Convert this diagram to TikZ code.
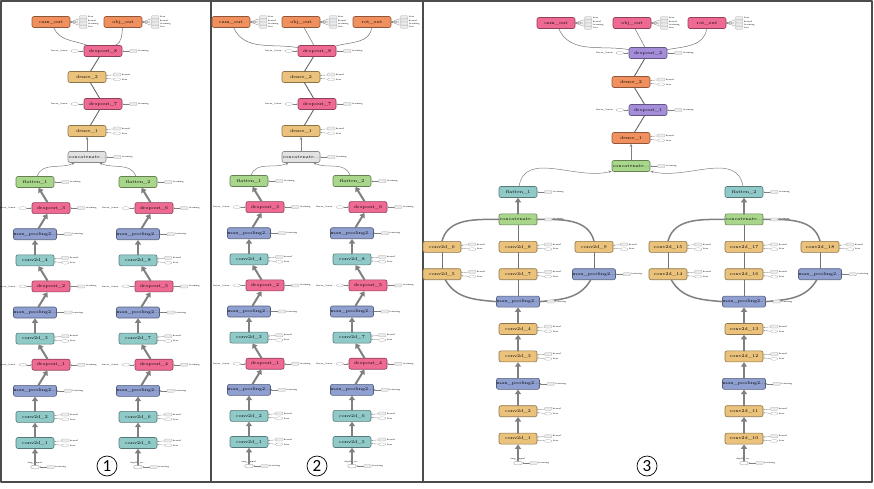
\documentclass[tikz,border=0pt]{standalone}
\usepackage{fontspec}
\newfontfamily\numfont{Carlito}
\usetikzlibrary{positioning,arrows.meta,shapes.geometric}
\definecolor{orng}{HTML}{F0905E}
\definecolor{pnk}{HTML}{EE6A92}
\definecolor{gld}{HTML}{EAC27C}
\definecolor{lgry}{HTML}{E2E2E2}
\definecolor{lgrn}{HTML}{A8D68B}
\definecolor{slat}{HTML}{8E9FD0}
\definecolor{tl}{HTML}{8FCAC8}
\definecolor{purp}{HTML}{A48EDA}
\begin{document}
\begin{tikzpicture}[x=1pt,y=1pt,line join=round,line cap=round,
	blk/.style={draw=#1!60!black,fill=#1,rounded corners=2pt,line width=0.6pt,minimum width=38pt,minimum height=11pt,inner sep=0pt,font=\fontsize{4.4}{4.4}\selectfont},
	tg/.style={draw=gray!70,fill=black!8,rounded corners=0.8pt,minimum width=7.5pt,minimum height=3pt,inner sep=0pt,line width=0.25pt},
	tge/.style={tg,fill=white,ellipse,rounded corners=0pt},
	tt/.style={inner sep=0pt,font=\fontsize{2.3}{2.3}\selectfont},
	ta/.style={draw=gray,line width=0.3pt,-{Stealth[length=1.2pt,width=1.2pt]}},
	thk/.style={draw=gray,line width=2pt,-{Triangle[length=4.5pt,width=6pt]}},
	mid/.style={draw=black!55,line width=0.9pt},
	med/.style={draw=gray,line width=1.5pt},
	thn/.style={draw=black!60,line width=0.9pt},
	ol/.style={draw=gray!90!black,line width=0.5pt},
	cn/.style={draw=gray,line width=0.5pt,-{Stealth[length=3pt,width=2.5pt]}},
	num/.style={circle,draw,line width=0.7pt,minimum size=20pt,inner sep=0pt,font=\numfont\fontsize{17}{17}\selectfont}]
	\def\mpl{max\_pooling2...}\def\ccat{concatenate...}
	\def\inl{img\_input}\def\inr{depth\_in...}
	\def\onetag#1#2{\node[tg,right=7pt of #1] (#1-t) {};
		\node[tt,right=0.6pt of #1-t] (#1-tl) {#2};
		\draw[ta] (#1-t) -- (#1);}
	\def\twotag#1{\node[tg,right=7pt of #1,yshift=2.4pt] (#1-t) {};
		\node[tt,right=0.6pt of #1-t] (#1-tl) {kernel};
		\node[tge,right=7pt of #1,yshift=-2.4pt] (#1-u) {};
		\node[tt,right=0.6pt of #1-u] (#1-ul) {bias};
		\draw[ta] (#1-t) -- (#1); \draw[ta] (#1-u) -- (#1);}
	\def\droptag#1{\onetag{#1}{training}
		\node[tge,left=5pt of #1] (#1-k) {};
		\node[tt,left=0.5pt of #1-k] (#1-kl) {keras\_learn...};
		\draw[ta] (#1-k) -- (#1);}
	\def\outtag#1{\foreach \m/\sh/\tx in {1/4.8pt/bias,2/1.6pt/kernel,3/-1.6pt/training,4/-4.8pt/loss}{
		\node[tg,right=9pt of #1,yshift=\sh] (#1-\m) {};
		\node[tt,right=0.6pt of #1-\m] (#1-\m l) {\tx};
		\draw[ta] (#1-\m) -- (#1.east);}}
	\useasboundingbox (0,0) rectangle (874,-489);
	\draw[black!70,line width=1.3pt] (1,-1) rectangle (872,-482) (211,-1) -- (211,-482) (423,-1) -- (423,-482);
	
	% panels 1 and 2
	\foreach \p/\ox/\oy in {a/0/182,b/214/181}{
		\node[blk=lgry] (\p cc) at (87+\ox,-157) {\ccat};
		\node[blk=gld] (\p de1) at (87+\ox,-131) {dense\_1};
		\node[blk=pnk] (\p dr7) at (103+\ox,-104) {dropout\_7};
		\node[blk=gld] (\p de2) at (87+\ox,-77) {dense\_2};
		\node[blk=pnk] (\p dr8) at (103+\ox,-51) {dropout\_8};
		\draw[cn] (\p cc) -- (\p de1);
		\draw[thn] (\p de1) -- (\p dr7) -- (\p de2) -- (\p dr8);
		\onetag{\p cc}{training}
		\twotag{\p de1} \twotag{\p de2}
		\droptag{\p dr7} \droptag{\p dr8}
		\foreach \c/\cx/\k/\inp in {l/35/0/\inl,r/138/1/\inr}{
			\foreach \lv/\dx/\col/\txt in {0/0/lgrn/flatten\_\number\numexpr1+\k\relax,
				1/16/pnk/dropout\_\number\numexpr3+3*\k\relax,
				2/0/slat/\mpl,
				3/0/tl/conv2d\_\number\numexpr4+4*\k\relax,
				4/16/pnk/dropout\_\number\numexpr2+3*\k\relax,
				5/0/slat/\mpl,
				6/0/tl/conv2d\_\number\numexpr3+4*\k\relax,
				7/16/pnk/dropout\_\number\numexpr1+3*\k\relax,
				8/0/slat/\mpl,
				9/0/tl/conv2d\_\number\numexpr2+4*\k\relax,
				10/0/tl/conv2d\_\number\numexpr1+4*\k\relax}
				\node[blk=\col] (\p\c\lv) at (\cx+\dx+\ox,-\oy-26.1*\lv) {\txt};
			\node[tge,draw=gray,minimum width=9pt,minimum height=4pt] (\p\c in) at (\cx+\ox,-\oy-285) {};
			\node[tt,above=0.4pt of \p\c in] (\p\c inl) {\inp};
			\onetag{\p\c in}{training}
			\draw[thk] (\p\c in) -- (\p\c10);
			\foreach \lv [remember=\lv as \lo (initially 10)] in {9,...,0} \draw[thk] (\p\c\lo) -- (\p\c\lv);
			\foreach \lv in {3,6,9,10} {\twotag{\p\c\lv}}
			\foreach \lv in {0,2,5,8} {\onetag{\p\c\lv}{training}}
			\foreach \lv in {1,4,7} {\droptag{\p\c\lv}}
		}
		\draw[cn] (\p l0) to[out=70,in=205] (\p cc);
		\draw[cn] (\p r0) to[out=110,in=-25] (\p cc);
	}
	\node[blk=orng] (acam) at (51,-22) {cam\_out};
	\node[blk=orng] (aobj) at (123,-22) {obj\_out};
	\draw[ol] (adr8) to[out=160,in=-65] (acam);
	\draw[ol] (adr8) to[out=25,in=-95] (aobj);
	\outtag{acam} \outtag{aobj}
	\node[blk=orng] (bcam) at (231,-22) {cam\_out};
	\node[blk=orng] (bobj) at (301,-22) {obj\_out};
	\node[blk=orng] (brot) at (372,-22) {rot\_out};
	\draw[ol] (bdr8) to[out=170,in=-65] (bcam);
	\draw[ol] (bdr8) -- (bobj);
	\draw[ol] (bdr8) to[out=15,in=-95] (brot);
	\outtag{bcam} \outtag{bobj} \outtag{brot}
	
	% panel 3
	\node[blk=lgrn] (ccc) at (631,-166) {\ccat};
	\node[blk=orng] (cde1) at (631,-138) {dense\_1};
	\node[blk=purp] (cdr1) at (648,-110) {dropout\_1};
	\node[blk=orng] (cde2) at (631,-82) {dense\_2};
	\node[blk=purp] (cdr2) at (648,-53) {dropout\_2};
	\node[blk=pnk] (ccam) at (556,-23) {cam\_out};
	\node[blk=pnk] (cobj) at (632,-23) {obj\_out};
	\node[blk=pnk] (crot) at (707,-23) {rot\_out};
	\draw[cn] (ccc) -- (cde1);
	\draw[thn] (cde1) -- (cdr1) -- (cde2) -- (cdr2);
	\draw[ol] (cdr2) to[out=170,in=-65] (ccam);
	\draw[ol] (cdr2) -- (cobj);
	\draw[ol] (cdr2) to[out=10,in=-95] (crot);
	\onetag{ccc}{training}
	\twotag{cde1} \twotag{cde2}
	\droptag{cdr1} \droptag{cdr2}
	\outtag{ccam} \outtag{cobj} \outtag{crot}
	\foreach \p/\ox/\k/\f/\inp in {cl/0/0/1/\inl,cr/226/9/2/\inr}{
		\foreach \lv/\col/\txt in {0/tl/flatten\_\f,
			1/lgrn/\ccat,
			2/gld/conv2d\_\number\numexpr8+\k\relax,
			3/gld/conv2d\_\number\numexpr7+\k\relax,
			4/slat/\mpl,
			5/gld/conv2d\_\number\numexpr4+\k\relax,
			6/gld/conv2d\_\number\numexpr3+\k\relax,
			7/slat/\mpl,
			8/gld/conv2d\_\number\numexpr2+\k\relax,
			9/gld/conv2d\_\number\numexpr1+\k\relax}
			\node[blk=\col] (\p\lv) at (518+\ox,-192-27.4*\lv) {\txt};
		\node[blk=gld] (\p a2) at (442+\ox,-246.8) {conv2d\_\number\numexpr6+\k\relax};
		\node[blk=gld] (\p a3) at (442+\ox,-274.2) {conv2d\_\number\numexpr5+\k\relax};
		\node[blk=gld] (\p b2) at (594+\ox,-246.8) {conv2d\_\number\numexpr9+\k\relax};
		\node[blk=slat] (\p b3) at (594+\ox,-274.2) {\mpl};
		\node[tge,draw=gray,minimum width=9pt,minimum height=4pt] (\p in) at (518+\ox,-463) {};
		\node[tt,above=0.4pt of \p in] (\p inl) {\inp};
		\onetag{\p in}{training}
		\draw[thk] (\p in) -- (\p9);
		\foreach \lv [remember=\lv as \lo (initially 9)] in {8,...,4} \draw[thk] (\p\lo) -- (\p\lv);
		\draw[mid] (\p4) -- (\p3) -- (\p2) -- (\p1);
		\draw[thk] (\p1) -- (\p0);
		\draw[med] (\p4.west) to[out=175,in=-60] (\p a3);
		\draw[med] (\p4.east) to[out=5,in=-120] (\p b3);
		\draw[mid] (\p a3) -- (\p a2);
		\draw[mid] (\p b3) -- (\p b2);
		\draw[med] (\p a2.north) to[out=75,in=180] (\p1.west);
		\draw[med] (\p b2.north) to[out=105,in=0] (\p1.east);
		\foreach \lv in {2,3,5,6,8,9} {\twotag{\p\lv}}
		\foreach \lv in {0,1,4,7} {\onetag{\p\lv}{training}}
		\twotag{\p a2} \twotag{\p a3} \twotag{\p b2}
		\onetag{\p b3}{training}
	}
	\draw[cn] (cl0) to[out=80,in=195] (ccc);
	\draw[cn] (cr0) to[out=100,in=-15] (ccc);
	
	\node[num] (n1) at (107,-466) {1};
	\node[num] (n2) at (317,-466) {2};
	\node[num] (n3) at (647,-466) {3};
\end{tikzpicture}
\end{document}
